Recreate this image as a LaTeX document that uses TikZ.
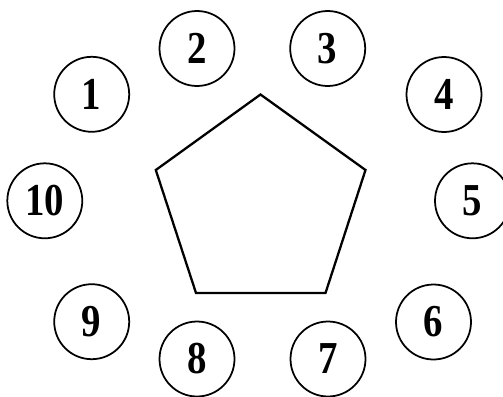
\documentclass[tikz,border=0pt]{standalone}
\usepackage{fontspec}
\setmainfont{Liberation Serif}[FakeStretch=0.85]
\usepackage{tikz}

\tikzset{
  seat/.style={draw,circle,line width=1pt,minimum size=1.5cm,inner sep=0pt,
    font=\fontsize{26}{26}\selectfont\bfseries}
}

\begin{document}
\begin{tikzpicture}[x=0.02cm,y=-0.02cm]
        \useasboundingbox (0,0) rectangle (503,396);
        % table
        \draw[line width=1.3pt,line join=miter] (260.5,94.5) -- (365.5,170) -- (325.5,293) -- (196,293) -- (155.8,170) -- cycle;
        % seats
        \node[seat] (s1) at (91.7,94.3) {1};
        \node[seat] (s2) at (197,48.5) {2};
        \node[seat] (s3) at (327.7,48.5) {3};
        \node[seat] (s4) at (444,94.5) {4};
        \node[seat] (s5) at (472.5,200.8) {5};
        \node[seat] (s6) at (433.5,322) {6};
        \node[seat] (s7) at (328,359) {7};
        \node[seat] (s8) at (197,359) {8};
        \node[seat] (s9) at (91.7,321.7) {9};
        \node[seat] (s10) at (44.8,200.8) {10};
    \end{tikzpicture}
\end{document}
